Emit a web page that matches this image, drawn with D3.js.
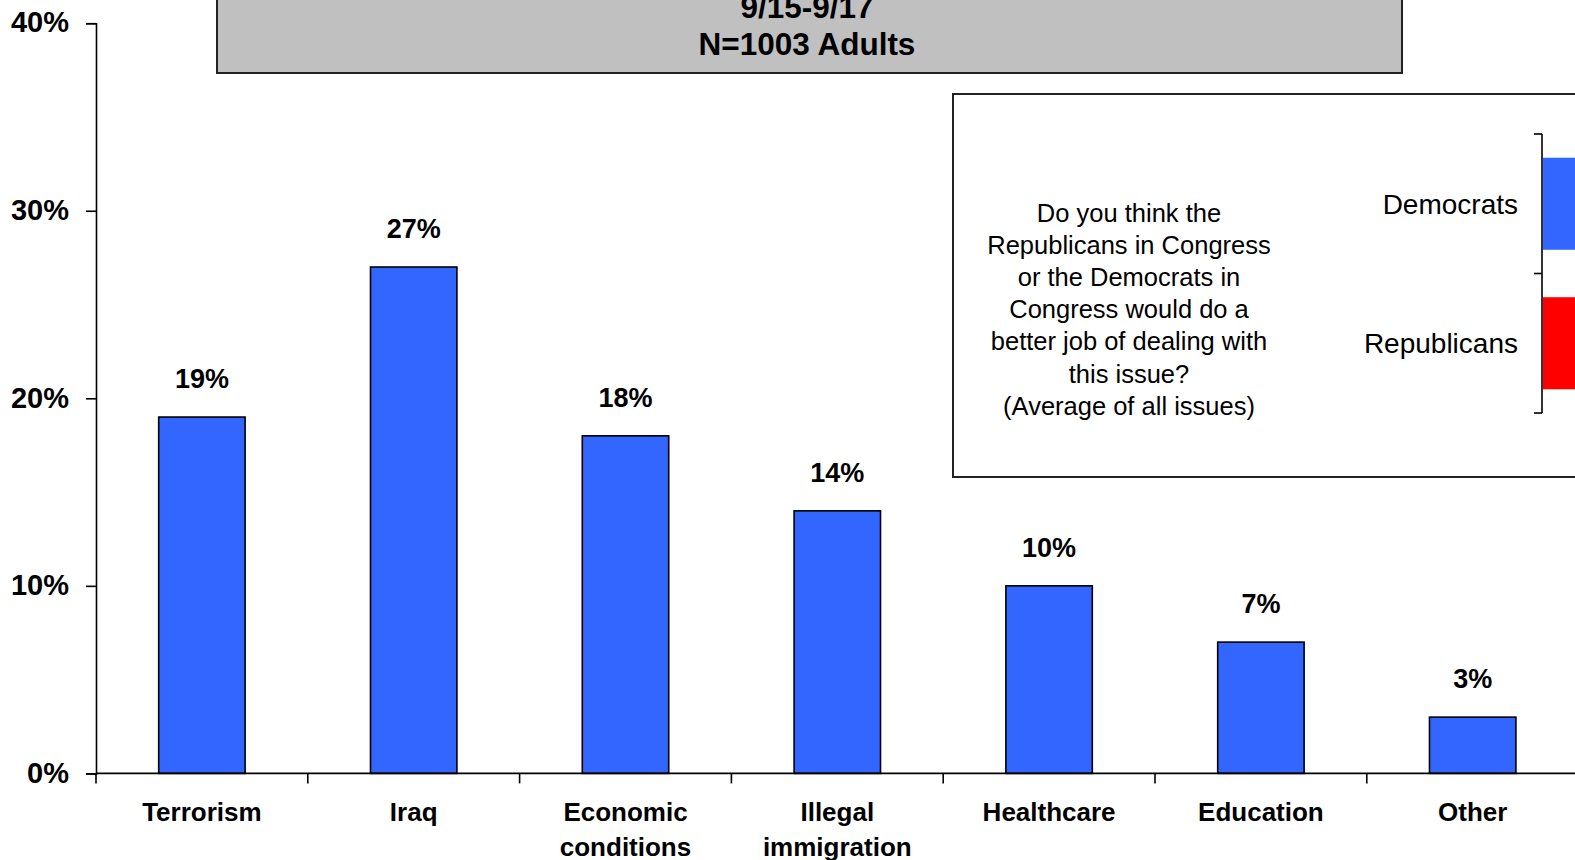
<!DOCTYPE html>
<html>
<head>
<meta charset="utf-8">
<script src="https://cdn.jsdelivr.net/npm/d3@7"></script>
<style>
  html, body { margin: 0; padding: 0; background: #fff; overflow: hidden; }
  svg { display: block; font-family: "Liberation Sans", Arial, sans-serif; }
</style>
</head>
<body>
<svg id="chart" width="1575" height="860"></svg>
<script>
// ---- data ----
const categories = [["Terrorism"], ["Iraq"], ["Economic", "conditions"], ["Illegal", "immigration"], ["Healthcare"], ["Education"], ["Other"]];
const values = [19, 27, 18, 14, 10, 7, 3];
const yTicks = [0, 10, 20, 30, 40];
const titleLines = ["9/15-9/17", "N=1003 Adults"];
const legendQuestion = ["Do you think the", "Republicans in Congress", "or the Democrats in", "Congress would do a", "better job of dealing with", "this issue?", "(Average of all issues)"];
const legendParties = ["Democrats", "Republicans"];
const legendColors = ["#3366FF", "#FF0000"];

const svg = d3.select("#chart");
const keys = categories.map(c => c.join(" "));

const x = d3.scaleBand().domain(keys).range([96, 96 + 7 * 211.8]).paddingInner(0.592).paddingOuter(0.296);
const y = d3.scaleLinear().domain([0, 40]).range([773.4, 23.2]);

// bars
svg.append("g").selectAll("rect").data(values).join("rect")
  .attr("x", (d, i) => x(keys[i]))
  .attr("y", d => y(d))
  .attr("width", x.bandwidth())
  .attr("height", d => y(0) - y(d))
  .attr("fill", "#3366FF")
  .attr("stroke", "#000")
  .attr("stroke-width", 1.6);

// value labels
svg.append("g").selectAll("text").data(values).join("text")
  .attr("x", (d, i) => x(keys[i]) + x.bandwidth() / 2)
  .attr("y", d => y(d) - 29)
  .attr("text-anchor", "middle")
  .attr("font-size", 27)
  .attr("font-weight", "bold")
  .attr("fill", "#000")
  .text(d => d + "%");

// y axis
const yAxis = d3.axisLeft(y).tickValues(yTicks).tickFormat(d => d + "%").tickSize(10).tickPadding(17);
const gy = svg.append("g").attr("transform", "translate(96,0)").call(yAxis);
gy.select(".domain").attr("stroke", "#000").attr("stroke-width", 1.6);
gy.selectAll(".tick line").attr("stroke", "#000").attr("stroke-width", 1.6);
gy.selectAll(".tick text").attr("font-size", 29).attr("font-weight", "bold").attr("fill", "#000")
  .attr("font-family", "Liberation Sans, Arial, sans-serif").attr("dy", "0.3em");

// x axis line
svg.append("line").attr("x1", 96).attr("x2", 1575).attr("y1", y(0)).attr("y2", y(0))
  .attr("stroke", "#000").attr("stroke-width", 1.6);
// x ticks at band boundaries
const boundaries = keys.map(k => x(k) - x.step() * x.paddingInner() / 2).concat([x(keys[6]) + x.bandwidth() + x.step() * x.paddingInner() / 2]);
svg.append("g").selectAll("line").data(boundaries).join("line")
  .attr("x1", d => d).attr("x2", d => d)
  .attr("y1", y(0)).attr("y2", y(0) + 10)
  .attr("stroke", "#000").attr("stroke-width", 1.6);

// category labels
const cl = svg.append("g").selectAll("text").data(categories).join("text")
  .attr("x", (d, i) => x(keys[i]) + x.bandwidth() / 2)
  .attr("y", 821)
  .attr("text-anchor", "middle")
  .attr("font-size", 26)
  .attr("font-weight", "bold")
  .attr("fill", "#000");
cl.selectAll("tspan").data(d => d).join("tspan")
  .attr("x", function () { return d3.select(this.parentNode).attr("x"); })
  .attr("dy", (d, i) => i === 0 ? 0 : 35)
  .text(d => d);

// title box
svg.append("rect").attr("x", 217).attr("y", -60).attr("width", 1185).attr("height", 133)
  .attr("fill", "#C0C0C0").attr("stroke", "#222").attr("stroke-width", 2);
svg.append("g").selectAll("text").data(titleLines).join("text")
  .attr("x", 807).attr("y", (d, i) => 18 + i * 37)
  .attr("text-anchor", "middle").attr("font-size", 31.5).attr("font-weight", "bold").attr("fill", "#000")
  .text(d => d);

// legend box
svg.append("rect").attr("x", 953).attr("y", 94).attr("width", 700).attr("height", 383)
  .attr("fill", "#fff").attr("stroke", "#222").attr("stroke-width", 2);
svg.append("g").selectAll("text").data(legendQuestion).join("text")
  .attr("x", 1129).attr("y", (d, i) => 222 + i * 32.1)
  .attr("text-anchor", "middle").attr("font-size", 25.5).attr("fill", "#000")
  .text(d => d);

// legend mini bar chart
const ly = d3.scaleBand().domain(legendParties).range([134, 413]).paddingInner(0.34).paddingOuter(0.17);
svg.append("g").selectAll("rect").data(legendParties).join("rect")
  .attr("x", 1543).attr("y", d => ly(d)).attr("width", 60).attr("height", ly.bandwidth())
  .attr("fill", (d, i) => legendColors[i]);
svg.append("line").attr("x1", 1542).attr("x2", 1542).attr("y1", 134).attr("y2", 413)
  .attr("stroke", "#000").attr("stroke-width", 1.6);
svg.append("g").selectAll("line").data([134, 273.5, 413]).join("line")
  .attr("x1", 1534).attr("x2", 1542).attr("y1", d => d).attr("y2", d => d)
  .attr("stroke", "#000").attr("stroke-width", 1.6);
svg.append("g").selectAll("text").data(legendParties).join("text")
  .attr("x", 1518).attr("y", d => ly(d) + ly.bandwidth() / 2)
  .attr("dy", "0.35em")
  .attr("text-anchor", "end").attr("font-size", 28).attr("fill", "#000")
  .text(d => d);
</script>
</body>
</html>
